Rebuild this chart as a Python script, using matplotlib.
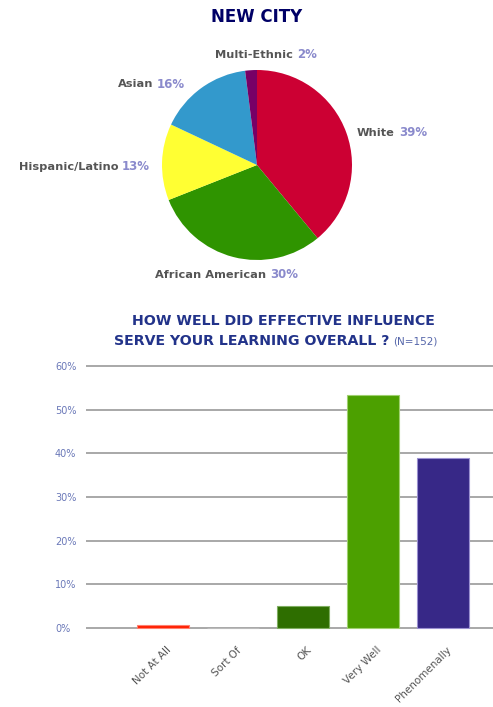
import matplotlib
matplotlib.use("Agg")
import matplotlib.pyplot as plt
import matplotlib.transforms as mtransforms

# ---- data ----
pie_title = "NEW CITY"
groups = ["White", "African American", "Hispanic/Latino", "Asian", "Multi-Ethnic"]
group_pct = [39, 30, 13, 16, 2]
group_colors = ["#cc0033", "#2f9400", "#ffff33", "#3399cc", "#770066"]

responses = ["Not At All", "Sort Of", "OK", "Very Well", "Phenomenally"]
response_pct = [0.7, 0.0, 5.1, 53.4, 39.0]
response_colors = ["#ff2000", "#888888", "#2e6e00", "#4ca000", "#372887"]
response_edges = ["#ff8070", "#bbbbbb", "#7fae60", "#a0d070", "#9a90d0"]
y_ticks = [0, 10, 20, 30, 40, 50, 60]
y_tick_labels = ["0%", "10%", "20%", "30%", "40%", "50%", "60%"]
bar_title_1 = "HOW WELL DID EFFECTIVE INFLUENCE"
bar_title_2 = "SERVE YOUR LEARNING OVERALL ?"
bar_note = "(N=152)"

W, H = 493, 707
fig = plt.figure(figsize=(W / 100, H / 100), dpi=100)
fig.patch.set_facecolor("white")


def fx(px):
    return px / W


def fy(py):
    return 1 - py / H


# ---- pie of student groups ----
cx, cy, r = 257, 165, 95
ax_pie = fig.add_axes([fx(cx - r), fy(cy + r), (2 * r) / W, (2 * r) / H])
ax_pie.pie(group_pct, colors=group_colors, startangle=90, counterclock=False,
           wedgeprops=dict(linewidth=0))
ax_pie.set_xlim(-1, 1)
ax_pie.set_ylim(-1, 1)
ax_pie.set_aspect("equal")
ax_pie.axis("off")

fig.text(fx(257), fy(17), pie_title, ha="center", va="center",
         fontsize=12, fontweight="heavy", color="#000066")

# label split points (pixel x, pixel y) for name | percent
label_spots = {
    "White": (397, 133),
    "African American": (268, 275),
    "Hispanic/Latino": (120, 167),
    "Asian": (155, 84),
    "Multi-Ethnic": (295, 55),
}
for name, pct in zip(groups, group_pct):
    sx, sy = label_spots[name]
    fig.text(fx(sx - 2), fy(sy), name, ha="right", va="center",
             fontsize=8.2, fontweight="bold", color="#555555")
    fig.text(fx(sx + 2), fy(sy), f"{pct}%", ha="left", va="center",
             fontsize=8.5, fontweight="bold", color="#8a8acc")

# ---- bar chart of responses ----
ppu = (628 - 366) / 60.0
y_lo, y_hi = -1, 61
bottom_px = 628 - y_lo * ppu
top_px = 366 - (y_hi - 60) * ppu
ax = fig.add_axes([fx(86), fy(bottom_px), 1 - fx(86), (bottom_px - top_px) / H])
x = list(range(len(responses)))
ax.bar(x, response_pct, width=0.74, color=response_colors,
       edgecolor=response_edges, linewidth=0.8, zorder=3)
ax.set_xlim(-1.1, 4.71)
ax.set_ylim(y_lo, y_hi)
ax.set_yticks(y_ticks)
ax.set_yticklabels(y_tick_labels)
ax.yaxis.grid(True, color="#a8a8a8", linewidth=1.4)
ax.set_axisbelow(True)
for s in ax.spines.values():
    s.set_visible(False)
ax.tick_params(axis="y", length=0, pad=22.3, labelsize=7, labelcolor="#6a78b8")
for lab in ax.get_yticklabels():
    lab.set_horizontalalignment("left")
ax.set_xticks(x)
ax.set_xticklabels(responses, rotation=45, ha="right", va="top",
                   rotation_mode="anchor", fontsize=7.5, color="#555555")
ax.tick_params(axis="x", length=0, pad=9)
offset = mtransforms.ScaledTranslation(3 / 100, 0, fig.dpi_scale_trans)
for lab in ax.get_xticklabels():
    lab.set_transform(lab.get_transform() + offset)

fig.text(fx(283), fy(321), bar_title_1, ha="center", va="center",
         fontsize=10.2, fontweight="bold", color="#22338a")
fig.text(fx(389), fy(341), bar_title_2, ha="right", va="center",
         fontsize=10.2, fontweight="bold", color="#22338a")
fig.text(fx(393), fy(341), bar_note, ha="left", va="center",
         fontsize=7.5, color="#5566aa")

fig.savefig("out.png", dpi=100, facecolor="white")
